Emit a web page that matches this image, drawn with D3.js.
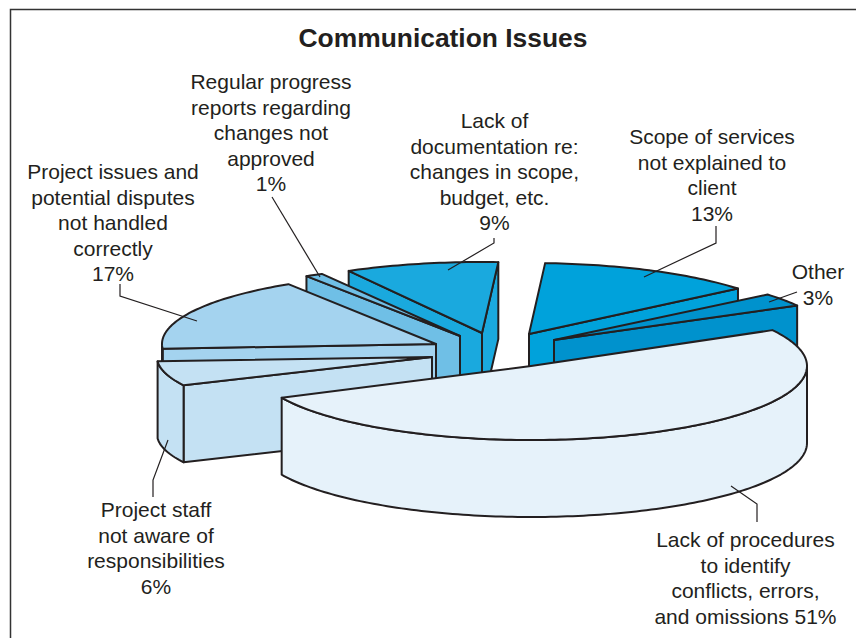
<!DOCTYPE html>
<html>
<head>
<meta charset="utf-8">
<script src="https://cdn.jsdelivr.net/npm/d3@7"></script>
<style>
html, body { margin: 0; padding: 0; background: #fff; }
svg { display: block; }
text { font-family: "Liberation Sans", Arial, sans-serif; fill: #231f20; }
</style>
</head>
<body>
<div id="chart"></div>
<script>
// Data, in the order of the pie going clockwise from the big slice
const categories = ["Lack of procedures", "Project staff", "Project issues", "Regular progress", "Lack of documentation", "Scope of services", "Other"];
const values = [51, 6, 17, 1, 9, 13, 3];
const colors = ["#e6f2fa", "#c4e1f3", "#a4d3ef", "#6fbfe6", "#1aa9de", "#00a2db", "#0092cd"];
const labelLines = [
    ["Lack of procedures", "to identify", "conflicts, errors,", "and omissions 51%"],
    ["Project staff", "not aware of", "responsibilities", "6%"],
    ["Project issues and", "potential disputes", "not handled", "correctly", "17%"],
    ["Regular progress", "reports regarding", "changes not", "approved", "1%"],
    ["Lack of", "documentation re:", "changes in scope,", "budget, etc.", "9%"],
    ["Scope of services", "not explained to", "client", "13%"],
    ["Other", "3%"]
];

// Layout of the exploded slices
const width = 856, height = 638;
const apexX = [531, 432, 436, 460, 482, 529, 554];
const apexY = [366, 357, 344, 336, 333, 334, 340];
const radiusX = [276, 275, 274, 285, 275, 272, 278];
const radiusY = [74, 66, 71, 71, 71, 71, 71];
const depth = 77;
const drawOrder = [4, 5, 3, 2, 1, 6, 0];
const labelX = [745.5, 156, 113, 271, 494.5, 712, 818];
const labelY = [547, 517, 179, 89, 128, 144, 279];
const lineGap = 25.5;
const leaders = [
    [[731, 486], [757, 504], [757, 522]],
    [[168, 440], [153, 480], [153, 497]],
    [[197, 321], [120, 296], [120, 284]],
    [[320, 277], [272, 197]],
    [[448, 270], [494, 243], [494, 238]],
    [[644, 277], [716, 243], [716, 226]],
    [[769, 302], [797, 292]]
];

const svg = d3.select("#chart")
    .append("svg")
    .attr("width", width)
    .attr("height", height);

// Frame, open on the right and at the bottom
svg.append("path")
    .attr("d", "M10.5,"+height+"L10.5,9.5L"+width+",9.5")
    .style("fill", "none")
    .style("stroke", "#333")
    .style("stroke-width", 1.5);

svg.append("text")
    .text("Communication Issues")
    .attr("x", 443)
    .attr("y", 47)
    .attr("text-anchor", "middle")
    .style("font-size", "26.4px")
    .style("font-weight", "bold");

const pie = d3.pie()
    .sort(null)
    .startAngle(61 * Math.PI / 180)
    .endAngle(421 * Math.PI / 180);
const arcs = pie(values);

// Point on the rim of a slice, d3 angle (0 = up, clockwise)
const rim = (i, a) => [
    apexX[i] + radiusX[i] * Math.sin(a),
    apexY[i] - radiusY[i] * Math.cos(a)
];
const line = d3.line();
const arcAngles = (from, to) => {
    const n = Math.max(2, Math.ceil((to - from) / 0.02));
    return d3.range(n + 1).map((k) => from + (to - from) * k / n);
};

const faceStyle = (sel, i) => sel
    .style("fill", colors[i])
    .style("stroke", "#231f20")
    .style("stroke-width", 2)
    .style("stroke-linejoin", "round");

const slices = svg.append("g");
drawOrder.forEach((i) => {
    const d = arcs[i];
    const g = slices.append("g").attr("class", "slice");
    const apex = [apexX[i], apexY[i]];

    // Cut walls that face the viewer
    [[d.startAngle, Math.sin(d.startAngle) < 0], [d.endAngle, Math.sin(d.endAngle) > 0]].forEach((w) => {
        if (!w[1]) return;
        const p = rim(i, w[0]);
        g.append("path")
            .attr("d", line([apex, p, [p[0], p[1] + depth], [apex[0], apex[1] + depth]]) + "Z")
            .call(faceStyle, i);
    });

    // Outer wall, only the part on the front half
    [[Math.PI / 2, 3 * Math.PI / 2], [2.5 * Math.PI, 3.5 * Math.PI]].forEach((range) => {
        const from = Math.max(d.startAngle, range[0]);
        const to = Math.min(d.endAngle, range[1]);
        if (to <= from) return;
        const top = arcAngles(from, to).map((a) => rim(i, a));
        const bottom = top.map((p) => [p[0], p[1] + depth]).reverse();
        g.append("path")
            .attr("d", line(top.concat(bottom)) + "Z")
            .call(faceStyle, i);
    });

    // Top face
    const top = arcAngles(d.startAngle, d.endAngle).map((a) => rim(i, a));
    g.append("path")
        .attr("d", line([apex].concat(top)) + "Z")
        .call(faceStyle, i);
});

// Leader lines
svg.append("g").selectAll("path")
    .data(leaders)
    .enter()
    .append("path")
    .attr("d", (d) => {return line(d);})
    .style("fill", "none")
    .style("stroke", "#231f20")
    .style("stroke-width", 1.2);

// Labels
const labels = svg.append("g");
labelLines.forEach((lines, i) => {
    lines.forEach((t, k) => {
        labels.append("text")
            .text(t)
            .attr("x", labelX[i])
            .attr("y", labelY[i] + k * lineGap)
            .attr("text-anchor", "middle")
            .style("font-size", "21px");
    });
});
</script>
</body>
</html>
